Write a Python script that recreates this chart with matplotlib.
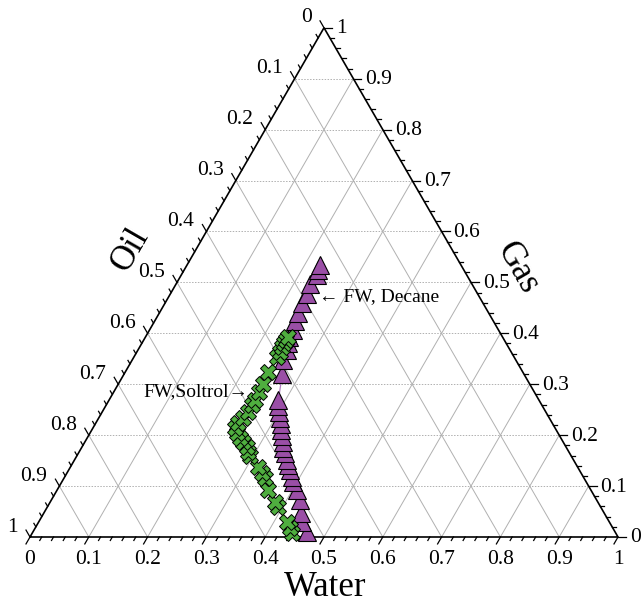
import numpy as np
import matplotlib
matplotlib.use("Agg")
import matplotlib.pyplot as plt

plt.rcParams['font.family'] = ['Liberation Serif', 'DejaVu Serif']

# ---- data (ternary fractions: water, gas; oil = 1 - water - gas) ----
decane_water = [0.466, 0.448, 0.437, 0.423, 0.408, 0.393, 0.387, 0.376, 0.368, 0.361,
                0.352, 0.343, 0.337, 0.330, 0.322, 0.316, 0.308, 0.300, 0.294, 0.288,
                0.269, 0.256, 0.253, 0.248, 0.244, 0.243, 0.239, 0.236, 0.233, 0.232,
                0.228, 0.231, 0.228, 0.226]
decane_gas = [0.010, 0.029, 0.047, 0.073, 0.092, 0.108, 0.118, 0.132, 0.141, 0.151,
              0.165, 0.175, 0.187, 0.198, 0.210, 0.222, 0.234, 0.246, 0.257, 0.269,
              0.320, 0.348, 0.367, 0.381, 0.393, 0.407, 0.424, 0.440, 0.460, 0.477,
              0.497, 0.515, 0.524, 0.534]

soltrol_water = [0.442, 0.433, 0.423, 0.392, 0.382, 0.359, 0.342, 0.332, 0.319, 0.295,
                 0.287, 0.281, 0.269, 0.260, 0.250, 0.242, 0.242, 0.245, 0.248, 0.248,
                 0.248, 0.247, 0.246, 0.243, 0.243, 0.244, 0.242, 0.241, 0.242, 0.242]
soltrol_gas = [0.008, 0.018, 0.029, 0.059, 0.069, 0.092, 0.116, 0.126, 0.137, 0.159,
               0.167, 0.177, 0.187, 0.194, 0.204, 0.214, 0.224, 0.234, 0.246, 0.259,
               0.269, 0.285, 0.300, 0.324, 0.354, 0.363, 0.373, 0.381, 0.387, 0.393]

tick_values = [0, 0.1, 0.2, 0.3, 0.4, 0.5, 0.6, 0.7, 0.8, 0.9, 1]
tick_labels = ['0', '0.1', '0.2', '0.3', '0.4', '0.5', '0.6', '0.7', '0.8', '0.9', '1']

S3 = np.sqrt(3) / 2


def to_xy(water, gas):
    w = np.asarray(water, float)
    g = np.asarray(gas, float)
    return w + g / 2, g * S3


fig = plt.figure(figsize=(6.44, 6.05), dpi=100)
ax = fig.add_axes([0, 0, 1, 1])
PX = 1 / 588.0
ax.set_xlim(-30 * PX, 614 * PX)
ax.set_ylim(-68 * PX, 537 * PX)
ax.set_aspect('equal')
ax.axis('off')


def P(px, py):
    """pixel position -> data coordinates (for text placement only)"""
    return (px - 30) * PX, (537 - py) * PX


grid_c = '#b0b0b0'
for v in np.arange(0.1, 1.0, 0.1):
    x, y = to_xy([0, 1 - v], [v, v])
    ax.plot(x, y, color=grid_c, lw=0.7, ls=(0, (1.5, 1.5)), zorder=1)
    x, y = to_xy([v, v], [0, 1 - v])
    ax.plot(x, y, color=grid_c, lw=0.7, zorder=1)
    x, y = to_xy([1 - v, 0], [0, 1 - v])
    ax.plot(x, y, color=grid_c, lw=0.7, zorder=1)

# triangle frame
x, y = to_xy([0, 1, 0, 0], [0, 0, 1, 0])
ax.plot(x, y, color='black', lw=1.2, zorder=3, solid_joinstyle='miter')

# ticks
maj_len = 8 * PX
min_len = 4 * PX
fine = np.round(np.arange(0, 1.0001, 0.02), 4)
for t in fine:
    major = abs(t * 10 - round(t * 10)) < 1e-6
    L = maj_len if major else min_len
    x0, y0 = to_xy(t, 0)
    ax.plot([x0, x0 - 0.5 * L], [y0, y0 - S3 * L], color='black', lw=0.9, zorder=3)
    x0, y0 = to_xy(0, 1 - t)
    ax.plot([x0, x0 - 0.5 * L], [y0, y0 + S3 * L], color='black', lw=0.9, zorder=3)
    x0, y0 = to_xy(1 - t, t)
    ax.plot([x0, x0 + L], [y0, y0], color='black', lw=0.9, zorder=3)

fs = 15.5
for t, lab in zip(tick_values, tick_labels):
    x0, y0 = to_xy(t, 0)
    ax.text(x0, y0 - 22 * PX, lab, ha='center', va='center', fontsize=fs)
    x0, y0 = to_xy(0, 1 - t)
    ax.text(x0 - 12 * PX, y0 + 10 * PX, lab, ha='right', va='center', fontsize=fs)
    x0, y0 = to_xy(1 - t, t)
    ax.text(x0 + 12 * PX, y0 - 1 * PX, lab, ha='left', va='center', fontsize=fs)

ax.text(*P(325, 588), 'Water', ha='center', va='center', fontsize=25)
ax.text(*P(130, 250), 'Oil', ha='center', va='center', fontsize=25, rotation=60)
ax.text(*P(518, 268), 'Gas', ha='center', va='center', fontsize=25, rotation=-60)

# data series
x, y = to_xy(decane_water, decane_gas)
ax.plot(x, y, color='#b07cc0', lw=0.9, zorder=4)
ax.plot(x, y, ls='none', marker='^', ms=13, mfc='#9a4fa6', mec='black', mew=0.8, zorder=5)

x, y = to_xy(soltrol_water, soltrol_gas)
ax.plot(x, y, color='#5dbb4a', lw=0.9, zorder=6)
ax.plot(x, y, ls='none', marker='X', ms=11, mfc='#4fae3f', mec='black', mew=0.7, zorder=7)

ax.text(*P(319, 297), '\u2190 FW, Decane', ha='left', va='center', fontsize=14)
ax.text(*P(248, 392), 'FW,Soltrol\u2192', ha='right', va='center', fontsize=14)

fig.savefig('out.png', dpi=100)
